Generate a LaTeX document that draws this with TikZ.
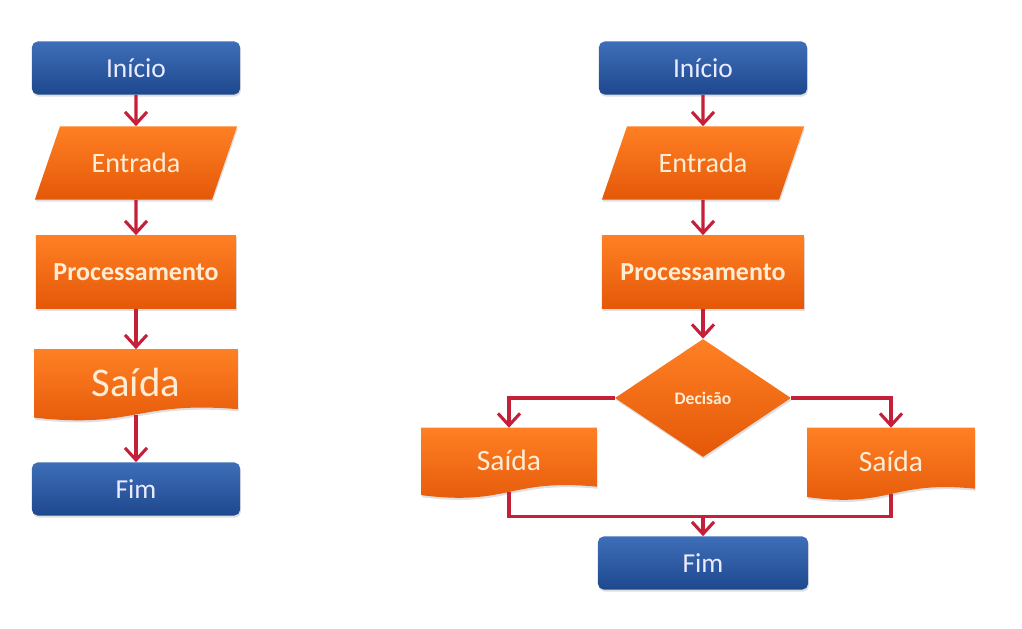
\documentclass[tikz,border=0pt]{standalone}
\usepackage{fontspec}
\setmainfont{Carlito}
\usetikzlibrary{shapes.geometric, arrows.meta, backgrounds, shadows}

\definecolor{termBlue}{RGB}{62,110,184}
\definecolor{termBlueDark}{RGB}{30,72,142}
\definecolor{procOrange}{RGB}{255,128,36}
\definecolor{procOrangeDark}{RGB}{228,88,8}
\definecolor{flowRed}{RGB}{196,32,58}
\definecolor{textCream}{RGB}{255,236,212}

% document shape, drawn behind the node of the same name
\newcommand{\docshape}[1]{%
  \shade[top color=procOrange, bottom color=procOrangeDark, soft shadow]
    (#1.north west) -- (#1.north east) -- ([yshift=4pt]#1.south east)
    .. controls ([yshift=10pt]#1.south) and ([yshift=-10pt]#1.south) ..
    ([yshift=-2pt]#1.south west) -- cycle;}

\tikzset{soft shadow/.style={drop shadow={opacity=0.25, shadow xshift=0.6pt, shadow yshift=-1.5pt}}}

\begin{document}
\begin{tikzpicture}[x=0.025cm, y=-0.025cm,
    terminal/.style={rectangle, rounded corners=4pt, top color=termBlue, bottom color=termBlueDark,
      minimum width=5.2cm, minimum height=1.325cm, text=white!92!blue,
      font=\fontsize{19.5}{23}\selectfont, soft shadow},
    inout/.style={trapezium, trapezium left angle=61, trapezium right angle=119, trapezium stretches=true,
      top color=procOrange, bottom color=procOrangeDark, minimum width=5.1cm, minimum height=1.825cm,
      text=textCream, font=\fontsize{20}{24}\selectfont, soft shadow},
    process/.style={rectangle, top color=procOrange, bottom color=procOrangeDark,
      minimum height=1.825cm, text=textCream, font=\bfseries\fontsize{18.5}{22}\selectfont, soft shadow},
    document/.style={rectangle, inner sep=0pt, text=textCream},
    decision/.style={diamond, top color=procOrange, bottom color=procOrangeDark, inner sep=0pt,
      minimum width=4.4cm, minimum height=2.95cm, text=textCream,
      font=\bfseries\fontsize{12.5}{15}\selectfont, soft shadow},
    flow/.style={draw=flowRed, line width=2.2pt, -{Straight Barb[length=3mm, width=5.5mm]}},
    link/.style={draw=flowRed, line width=2.2pt}]
  \useasboundingbox (0,0) rectangle (1022,629);

  % left flowchart
  \node[terminal] (L_inicio) at (136,68) {Início};
  \node[inout] (L_entrada) at (136,163) {Entrada};
  \node[process, minimum width=5cm] (L_proc) at (136,272) {Processamento};
  \node[document, minimum width=5.075cm, minimum height=1.625cm,
    font=\fontsize{29}{33}\selectfont] (L_saida) at (136,382) {Saída};
  \node[terminal] (L_fim) at (136,489) {Fim};

  \path[flow] (L_inicio) edge (L_entrada);
  \path[flow] (L_entrada) edge (L_proc);
  \path[flow] (L_proc) edge (L_saida);
  \path[flow] (L_saida) edge (L_fim);

  % right flowchart
  \node[terminal] (R_inicio) at (703,68) {Início};
  \node[inout] (R_entrada) at (703,163) {Entrada};
  \node[process, minimum width=5.05cm] (R_proc) at (703,272) {Processamento};
  \node[decision] (R_decisao) at (703,398) {Decisão};
  \node[document, minimum width=4.375cm, minimum height=1.6cm,
    font=\fontsize{21}{25}\selectfont] (R_saida1) at (509,460) {Saída};
  \node[document, minimum width=4.175cm, minimum height=1.65cm,
    font=\fontsize{21}{25}\selectfont] (R_saida2) at (891,461) {Saída};
  \node[terminal, minimum width=5.25cm] (R_fim) at (703,563) {Fim};
  \coordinate (R_junta) at ([yshift=0.5cm]R_fim.north);

  \path[flow] (R_inicio) edge (R_entrada);
  \path[flow] (R_entrada) edge (R_proc);
  \path[flow] (R_proc) edge (R_decisao);
  \draw[flow] (R_decisao.west) -| (R_saida1);
  \draw[flow] (R_decisao.east) -| (R_saida2);
  \draw[link] (R_saida1.south) |- (R_junta) -| (R_saida2.south);
  \draw[flow] (R_junta) -- (R_fim);

  \begin{scope}[on background layer]
    \docshape{L_saida}
    \docshape{R_saida1}
    \docshape{R_saida2}
  \end{scope}
\end{tikzpicture}
\end{document}
